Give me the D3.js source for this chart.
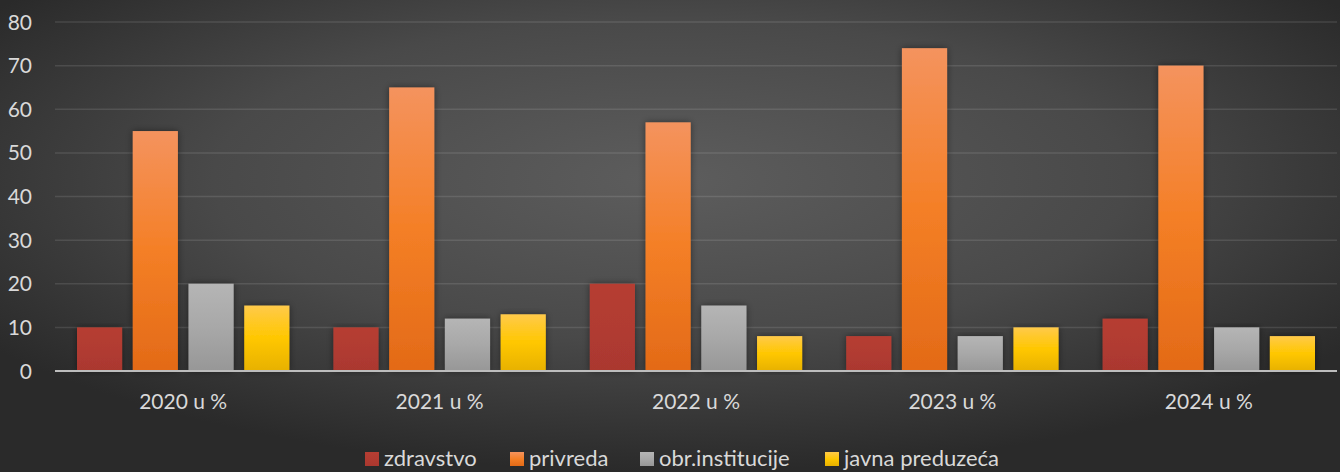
<!DOCTYPE html>
<html>
<head>
<meta charset="utf-8">
<script src="https://cdn.jsdelivr.net/npm/d3@7"></script>
<style>
    body { margin: 0; background: #2e2e2e; }
    text { font-family: Lato, "Open Sans", sans-serif; fill: #d9d9d9; }
</style>
</head>
<body>
<div id="chart"></div>
<script>
let years = ["2020 u %", "2021 u %", "2022 u %", "2023 u %", "2024 u %"];
let seriesNames = ["zdravstvo", "privreda", "obr.institucije", "javna preduzeća"];
let zdravstvo = [10, 10, 20, 8, 12];
let privreda = [55, 65, 57, 74, 70];
let obrInstitucije = [20, 12, 15, 8, 10];
let javnaPreduzeca = [15, 13, 8, 10, 8];
let yTicks = [0, 10, 20, 30, 40, 50, 60, 70, 80];

let seriesValues = [zdravstvo, privreda, obrInstitucije, javnaPreduzeca];
let colors = [
    ["#b63e33", "#b13b31", "#aa382f"],
    ["#f4935e", "#f47f26", "#e36a17"],
    ["#b5b5b5", "#a8a8a8", "#979797"],
    ["#ffca4a", "#ffc700", "#e7b100"]
];

let width = 1340, height = 472;
let margin = { top: 22, right: 3, bottom: 101, left: 55 };
let plotW = width - margin.left - margin.right;
let plotH = height - margin.top - margin.bottom;

let svg = d3.select("#chart").append("svg")
    .attr("width", width)
    .attr("height", height);

let defs = svg.append("defs");

let bg = defs.append("radialGradient")
    .attr("id", "bg")
    .attr("cx", "50%").attr("cy", "38%").attr("r", "62%");
bg.append("stop").attr("offset", "0%").attr("stop-color", "#5d5d5d");
bg.append("stop").attr("offset", "55%").attr("stop-color", "#494949");
bg.append("stop").attr("offset", "100%").attr("stop-color", "#2a2a2a");

colors.forEach(function (c, i) {
    let g = defs.append("linearGradient")
        .attr("id", "bar" + i)
        .attr("x1", 0).attr("y1", 0).attr("x2", 0).attr("y2", 1);
    g.append("stop").attr("offset", "0%").attr("stop-color", c[0]);
    g.append("stop").attr("offset", "50%").attr("stop-color", c[1]);
    g.append("stop").attr("offset", "100%").attr("stop-color", c[2]);
});

defs.append("filter")
    .attr("id", "shadow")
    .attr("x", "-30%").attr("y", "-10%").attr("width", "160%").attr("height", "120%")
    .append("feDropShadow")
    .attr("dx", 0).attr("dy", 0).attr("stdDeviation", 3.5)
    .attr("flood-color", "#000").attr("flood-opacity", 0.45);

svg.append("rect")
    .attr("width", width)
    .attr("height", height)
    .attr("fill", "url(#bg)");

let g = svg.append("g")
    .attr("transform", "translate(" + margin.left + "," + margin.top + ")");

let x0 = d3.scaleBand()
    .domain(years)
    .range([0, plotW]);

let x1 = d3.scaleBand()
    .domain(d3.range(seriesNames.length))
    .range([22, x0.bandwidth() - 22])
    .paddingInner(0.19);

let y = d3.scaleLinear()
    .domain([0, 80])
    .range([plotH, 0]);

// gridlines
g.selectAll(".grid")
    .data(yTicks.slice(1))
    .enter().append("line")
    .attr("x1", 0)
    .attr("x2", plotW)
    .attr("y1", function (d) { return y(d); })
    .attr("y2", function (d) { return y(d); })
    .attr("stroke", "rgba(255,255,255,0.11)")
    .attr("stroke-width", 1.5);

// y labels
g.selectAll(".ylab")
    .data(yTicks)
    .enter().append("text")
    .attr("x", -23)
    .attr("y", function (d) { return y(d); })
    .attr("dy", "0.36em")
    .style("text-anchor", "end")
    .style("font-size", "21px")
    .text(function (d) { return d; });

// bars
let groups = g.selectAll(".year")
    .data(years)
    .enter().append("g")
    .attr("transform", function (d) { return "translate(" + x0(d) + ",0)"; });

groups.selectAll("rect")
    .data(function (d, i) {
        return seriesValues.map(function (s, k) { return { k: k, v: s[i] }; });
    })
    .enter().append("rect")
    .attr("x", function (d) { return x1(d.k); })
    .attr("y", function (d) { return y(d.v); })
    .attr("width", x1.bandwidth())
    .attr("height", function (d) { return plotH - y(d.v); })
    .attr("fill", function (d) { return "url(#bar" + d.k + ")"; })
    .attr("filter", "url(#shadow)");

// axis line
g.append("line")
    .attr("x1", 0)
    .attr("x2", plotW)
    .attr("y1", y(0))
    .attr("y2", y(0))
    .attr("stroke", "#bdbdbd")
    .attr("stroke-width", 2);

// x labels
g.selectAll(".xlab")
    .data(years)
    .enter().append("text")
    .attr("x", function (d) { return x0(d) + x0.bandwidth() / 2; })
    .attr("y", plotH + 38)
    .style("text-anchor", "middle")
    .style("font-size", "21px")
    .text(function (d) { return d; });

// legend (lifted a little so descenders stay inside the picture)
let legendX = [365, 510, 640, 825];
let legend = svg.selectAll(".legend")
    .data(seriesNames)
    .enter().append("g")
    .attr("transform", function (d, i) { return "translate(" + legendX[i] + ",452)"; });

legend.append("rect")
    .attr("width", 14)
    .attr("height", 14)
    .attr("fill", function (d, i) { return "url(#bar" + i + ")"; });

legend.append("text")
    .attr("x", 19)
    .attr("y", 14)
    .style("font-size", "22px")
    .text(function (d) { return d; });
</script>
</body>
</html>
